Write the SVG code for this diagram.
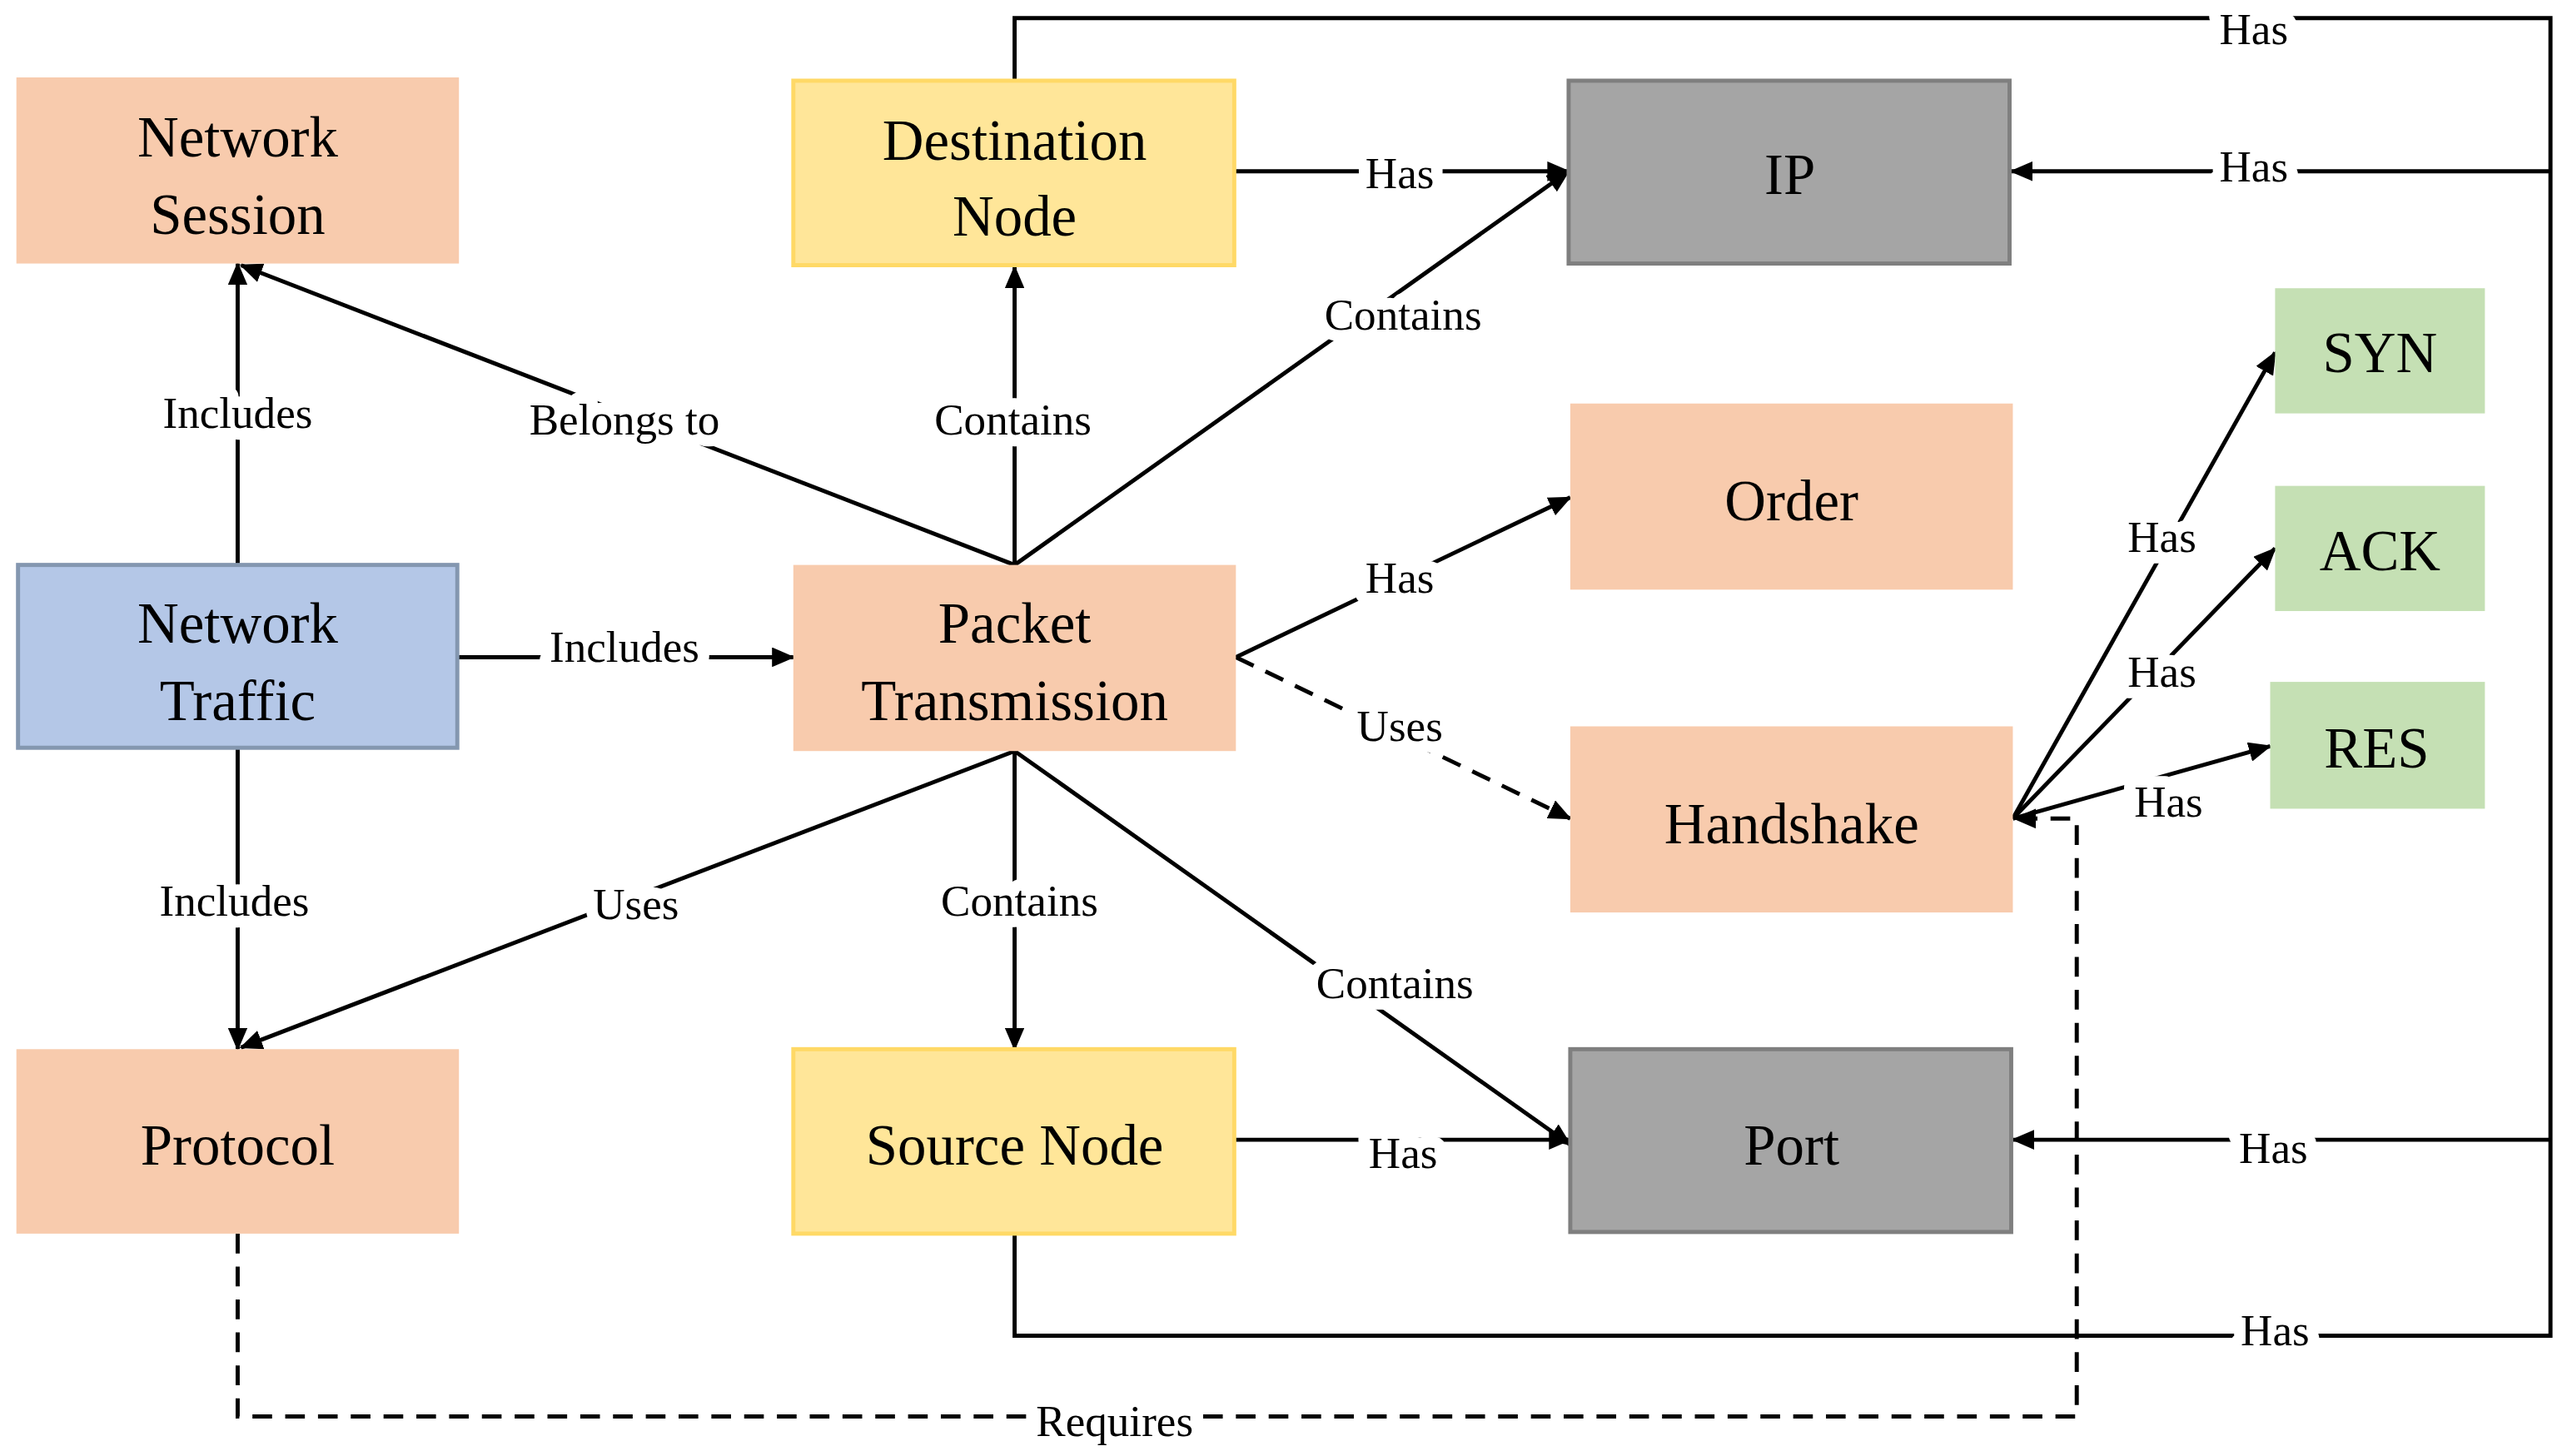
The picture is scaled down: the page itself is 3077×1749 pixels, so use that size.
<svg xmlns="http://www.w3.org/2000/svg" width="3077" height="1749" viewBox="0 0 3077 1749">
<style>
.n text{font-family:"Liberation Serif",serif;font-size:35px;text-anchor:middle;fill:#000}
.l{font-family:"Liberation Serif",serif;font-size:27px;text-anchor:middle;fill:#000;stroke:#fff;stroke-width:14px;paint-order:stroke;stroke-linejoin:round}
.c line,.c polyline{stroke:#000;stroke-width:2.5;fill:none}
.d{stroke-dasharray:12 8}
.o{fill:#F8CBAD}.y{fill:#FFE699;stroke:#FFD966;stroke-width:2.5}.g{fill:#A5A5A5;stroke:#7F7F7F;stroke-width:2.5}.gr{fill:#C5E0B4}.b{fill:#B4C7E7;stroke:#8497B0;stroke-width:2.5}
</style>
<defs><marker id="a" markerUnits="userSpaceOnUse" markerWidth="14" markerHeight="12" refX="13" refY="6" orient="auto"><path d="M0,0 L14,6 L0,12 z" fill="#000"/></marker></defs>
<rect width="3077" height="1749" fill="#fff"/>
<g transform="scale(1.9686,1.9785)">
<g class="c">
<line x1="145" y1="343" x2="145" y2="160" marker-end="url(#a)"/>
<line x1="619" y1="343" x2="147" y2="161" marker-end="url(#a)"/>
<line x1="619" y1="343" x2="619" y2="162" marker-end="url(#a)"/>
<line x1="619" y1="343" x2="957" y2="104" marker-end="url(#a)"/>
<line x1="753" y1="104" x2="957" y2="104" marker-end="url(#a)"/>
<line x1="279" y1="399" x2="484" y2="399" marker-end="url(#a)"/>
<line x1="754" y1="399" x2="958" y2="302" marker-end="url(#a)"/>
<line class="d" x1="754" y1="399" x2="958" y2="497" marker-end="url(#a)"/>
<line x1="145" y1="454" x2="145" y2="637" marker-end="url(#a)"/>
<line x1="619" y1="456" x2="147" y2="636" marker-end="url(#a)"/>
<line x1="619" y1="456" x2="619" y2="637" marker-end="url(#a)"/>
<line x1="619" y1="456" x2="958" y2="695" marker-end="url(#a)"/>
<line x1="753" y1="692" x2="958" y2="692" marker-end="url(#a)"/>
<line x1="1228" y1="497" x2="1388" y2="214" marker-end="url(#a)"/>
<line x1="1228" y1="497" x2="1388" y2="333" marker-end="url(#a)"/>
<line x1="1228" y1="497" x2="1385" y2="453" marker-end="url(#a)"/>
<polyline points="619,49 619,11 1556,11 1556,811 619,811 619,749"/>
<line x1="1556" y1="104" x2="1227" y2="104" marker-end="url(#a)"/>
<line x1="1556" y1="692" x2="1228" y2="692" marker-end="url(#a)"/>
<polyline class="d" points="145,749 145,860 1267,860 1267,497 1229,497" marker-end="url(#a)"/>
<text class="l" x="145" y="260">Includes</text>
<text class="l" x="381" y="264">Belongs to</text>
<text class="l" x="618" y="264">Contains</text>
<text class="l" x="856" y="200">Contains</text>
<text class="l" x="854" y="114">Has</text>
<text class="l" x="381" y="402">Includes</text>
<text class="l" x="854" y="360">Has</text>
<text class="l" x="854" y="450">Uses</text>
<text class="l" x="143" y="556">Includes</text>
<text class="l" x="388" y="558">Uses</text>
<text class="l" x="622" y="556">Contains</text>
<text class="l" x="851" y="606">Contains</text>
<text class="l" x="856" y="709">Has</text>
<text class="l" x="1319" y="335">Has</text>
<text class="l" x="1319" y="417">Has</text>
<text class="l" x="1323" y="496">Has</text>
<text class="l" x="1375" y="27">Has</text>
<text class="l" x="1375" y="110">Has</text>
<text class="l" x="1387" y="706">Has</text>
<text class="l" x="1388" y="817">Has</text>
<text class="l" x="680" y="872">Requires</text>
</g>
<g class="n" id="network-session"><rect class="o" x="10" y="47" width="270" height="113"/><text x="145" y="95">Network</text><text x="145" y="142">Session</text></g>
<g class="n" id="destination-node"><rect class="y" x="484" y="49" width="269" height="112"/><text x="619" y="97">Destination</text><text x="619" y="143">Node</text></g>
<g class="n" id="ip"><rect class="g" x="957" y="49" width="269" height="111"/><text x="1092" y="118">IP</text></g>
<g class="n" id="syn"><rect class="gr" x="1388" y="175" width="128" height="76"/><text x="1452" y="226">SYN</text></g>
<g class="n" id="ack"><rect class="gr" x="1388" y="295" width="128" height="76"/><text x="1452" y="346">ACK</text></g>
<g class="n" id="res"><rect class="gr" x="1385" y="414" width="131" height="77"/><text x="1450" y="466">RES</text></g>
<g class="n" id="order"><rect class="o" x="958" y="245" width="270" height="113"/><text x="1093" y="316">Order</text></g>
<g class="n" id="handshake"><rect class="o" x="958" y="441" width="270" height="113"/><text x="1093" y="512">Handshake</text></g>
<g class="n" id="port"><rect class="g" x="958" y="637" width="269" height="111"/><text x="1093" y="707">Port</text></g>
<g class="n" id="network-traffic"><rect class="b" x="11" y="343" width="268" height="111"/><text x="145" y="390">Network</text><text x="145" y="437">Traffic</text></g>
<g class="n" id="packet-transmission"><rect class="o" x="484" y="343" width="270" height="113"/><text x="619" y="390">Packet</text><text x="619" y="437">Transmission</text></g>
<g class="n" id="protocol"><rect class="o" x="10" y="637" width="270" height="112"/><text x="145" y="707">Protocol</text></g>
<g class="n" id="source-node"><rect class="y" x="484" y="637" width="269" height="112"/><text x="619" y="707">Source Node</text></g>
</g>
</svg>
